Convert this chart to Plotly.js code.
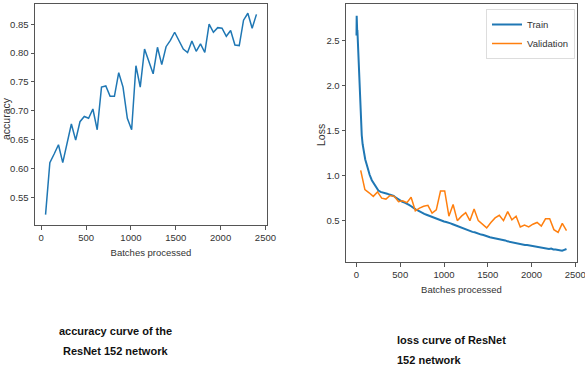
<!DOCTYPE html>
<html>
<head>
<meta charset="utf-8">
<script src="https://cdn.plot.ly/plotly-3.0.1.min.js"></script>
<style>html,body{margin:0;padding:0;background:#fff;}#chart{width:585px;height:376px;}</style>
</head>
<body>
<div id="chart"></div>
<script>
// ---- data ----
const accBatches = [48,96,144,192,240,288,336,384,432,480,528,576,624,672,720,768,816,864,912,960,1008,1056,1104,1152,1200,1248,1296,1344,1392,1440,1488,1536,1584,1632,1680,1728,1776,1824,1872,1920,1968,2016,2064,2112,2160,2208,2256,2304,2352,2400];
const accuracy = [0.520,0.610,0.625,0.641,0.610,0.645,0.677,0.649,0.681,0.690,0.687,0.703,0.667,0.741,0.743,0.725,0.725,0.766,0.741,0.687,0.667,0.778,0.741,0.807,0.785,0.764,0.810,0.780,0.811,0.822,0.836,0.822,0.807,0.801,0.821,0.803,0.816,0.801,0.850,0.836,0.844,0.843,0.829,0.839,0.814,0.813,0.857,0.869,0.843,0.867];

const trainBatches = [0,2,4,6,8,10,20,30,40,50,60,70,80,90,100,115,130,150,175,200,225,250,275,300,325,350,375,400,425,450,475,500,525,550,575,600,625,650,675,700,725,750,775,800,825,850,875,900,925,950,975,1000,1025,1050,1075,1100,1125,1150,1175,1200,1225,1250,1275,1300,1325,1350,1375,1400,1425,1450,1475,1500,1525,1550,1575,1600,1625,1650,1675,1700,1725,1750,1775,1800,1825,1850,1875,1900,1925,1950,1975,2000,2025,2050,2075,2100,2125,2150,2175,2200,2225,2250,2275,2300,2325,2350,2375,2400];
const trainLoss = [2.56,2.78,2.56,2.77,2.60,2.62,2.35,2.10,1.85,1.60,1.45,1.35,1.28,1.22,1.18,1.13,1.07,1.01,0.95,0.91,0.87,0.835,0.82,0.815,0.805,0.80,0.79,0.78,0.775,0.755,0.74,0.72,0.71,0.70,0.69,0.675,0.66,0.64,0.625,0.615,0.60,0.585,0.575,0.565,0.555,0.545,0.535,0.525,0.515,0.505,0.50,0.49,0.485,0.48,0.47,0.46,0.45,0.44,0.43,0.42,0.41,0.40,0.39,0.385,0.375,0.37,0.36,0.35,0.345,0.34,0.33,0.325,0.315,0.31,0.305,0.305,0.295,0.29,0.285,0.28,0.27,0.265,0.26,0.25,0.245,0.24,0.24,0.235,0.23,0.23,0.225,0.22,0.215,0.21,0.205,0.20,0.195,0.19,0.19,0.185,0.19,0.18,0.18,0.175,0.17,0.165,0.175,0.185];

const valBatches = [48,96,144,192,240,288,336,384,432,480,528,576,624,672,720,768,816,864,912,960,1008,1056,1104,1152,1200,1248,1296,1344,1392,1440,1488,1536,1584,1632,1680,1728,1776,1824,1872,1920,1968,2016,2064,2112,2160,2208,2256,2304,2352,2400];
const valLoss = [1.06,0.845,0.81,0.77,0.82,0.75,0.74,0.78,0.77,0.71,0.72,0.70,0.76,0.61,0.64,0.66,0.67,0.585,0.62,0.83,0.83,0.55,0.68,0.50,0.55,0.59,0.50,0.63,0.50,0.46,0.42,0.48,0.53,0.56,0.50,0.60,0.51,0.55,0.43,0.45,0.43,0.46,0.48,0.44,0.52,0.52,0.40,0.37,0.47,0.39];

const xTickVals = [0,500,1000,1500,2000,2500];
const accTickVals = [0.55,0.60,0.65,0.70,0.75,0.80,0.85];
const lossTickVals = [0.5,1.0,1.5,2.0,2.5];
const seriesNames = ["Train","Validation"];
const xTitle = "Batches processed";
const accTitle = "accuracy";
const lossTitle = "Loss";
const captionLeft = ["accuracy curve of the", "ResNet 152 network"];
const captionRight = ["loss curve of ResNet", "152 network"];

// ---- layout ----
const W = 585, H = 376;
const FONT = '"Liberation Sans", Arial, sans-serif';
const px = v => v / W;
const py = v => 1 - v / H;
const axisCommon = {
  showline: true, mirror: true, linecolor: '#555', linewidth: 1,
  ticks: 'outside', ticklen: 3.5, tickwidth: 1, tickcolor: '#555',
  showgrid: false, zeroline: false, fixedrange: true, ticklabeloverflow: 'allow',
  tickfont: {family: FONT, size: 9.5, color: '#333'}
};

const traces = [
  {x: accBatches, y: accuracy, type: 'scatter', mode: 'lines', xaxis: 'x', yaxis: 'y',
   line: {color: '#1f77b4', width: 1.5}, showlegend: false, hoverinfo: 'skip'},
  {x: trainBatches, y: trainLoss, type: 'scatter', mode: 'lines', xaxis: 'x2', yaxis: 'y2',
   name: seriesNames[0], line: {color: '#1f77b4', width: 2}, hoverinfo: 'skip'},
  {x: valBatches, y: valLoss, type: 'scatter', mode: 'lines', xaxis: 'x2', yaxis: 'y2',
   name: seriesNames[1], line: {color: '#ff7f0e', width: 1.5}, hoverinfo: 'skip'}
];

const capFont = {family: FONT, size: 11, color: '#111', weight: 'bold'};
const annotations = [
  {text: accTitle, xref: 'paper', yref: 'paper', x: px(6), y: py(119), textangle: -90,
   showarrow: false, font: {family: FONT, size: 10.5, color: '#333'}, xanchor: 'center', yanchor: 'middle'},
  {text: lossTitle, xref: 'paper', yref: 'paper', x: px(321), y: py(135), textangle: -90,
   showarrow: false, font: {family: FONT, size: 10.5, color: '#333'}, xanchor: 'center', yanchor: 'middle'},
  {text: captionLeft[0], xref: 'paper', yref: 'paper', x: px(115), y: py(331),
   showarrow: false, font: capFont, xanchor: 'center', yanchor: 'middle'},
  {text: captionLeft[1], xref: 'paper', yref: 'paper', x: px(115), y: py(351),
   showarrow: false, font: capFont, xanchor: 'center', yanchor: 'middle'},
  {text: captionRight[0], xref: 'paper', yref: 'paper', x: px(395), y: py(340),
   showarrow: false, font: capFont, xanchor: 'left', yanchor: 'middle'},
  {text: captionRight[1], xref: 'paper', yref: 'paper', x: px(395), y: py(360),
   showarrow: false, font: capFont, xanchor: 'left', yanchor: 'middle'}
];

const layout = {
  width: W, height: H,
  margin: {l: 0, r: 0, t: 0, b: 0},
  paper_bgcolor: '#fff', plot_bgcolor: '#fff',
  font: {family: FONT, color: '#333'},
  xaxis: Object.assign({}, axisCommon, {
    domain: [px(35), px(267)], anchor: 'y', range: [-69.6, 2517.6],
    tickvals: xTickVals,
    title: {text: xTitle, font: {family: FONT, size: 9.5, color: '#333'}, standoff: 7}
  }),
  yaxis: Object.assign({}, axisCommon, {
    domain: [py(225), py(4)], anchor: 'x', range: [0.502, 0.885],
    tickvals: accTickVals, tickformat: '.2f'
  }),
  xaxis2: Object.assign({}, axisCommon, {
    domain: [px(346), px(577)], anchor: 'y2', range: [-120, 2520],
    tickvals: xTickVals,
    title: {text: xTitle, font: {family: FONT, size: 9.5, color: '#333'}, standoff: 7}
  }),
  yaxis2: Object.assign({}, axisCommon, {
    domain: [py(262), py(4)], anchor: 'x2', range: [0.04, 2.91],
    tickvals: lossTickVals, tickformat: '.1f'
  }),
  showlegend: true,
  legend: {
    x: px(575), xanchor: 'right', y: py(9), yanchor: 'top',
    bgcolor: 'rgba(255,255,255,0.8)', bordercolor: '#ddd', borderwidth: 1,
    font: {family: FONT, size: 9.5, color: '#333'},
    itemwidth: 30, tracegroupgap: 0
  },
  annotations: annotations
};

Plotly.newPlot('chart', traces, layout, {staticPlot: true, displayModeBar: false});
</script>
</body>
</html>
